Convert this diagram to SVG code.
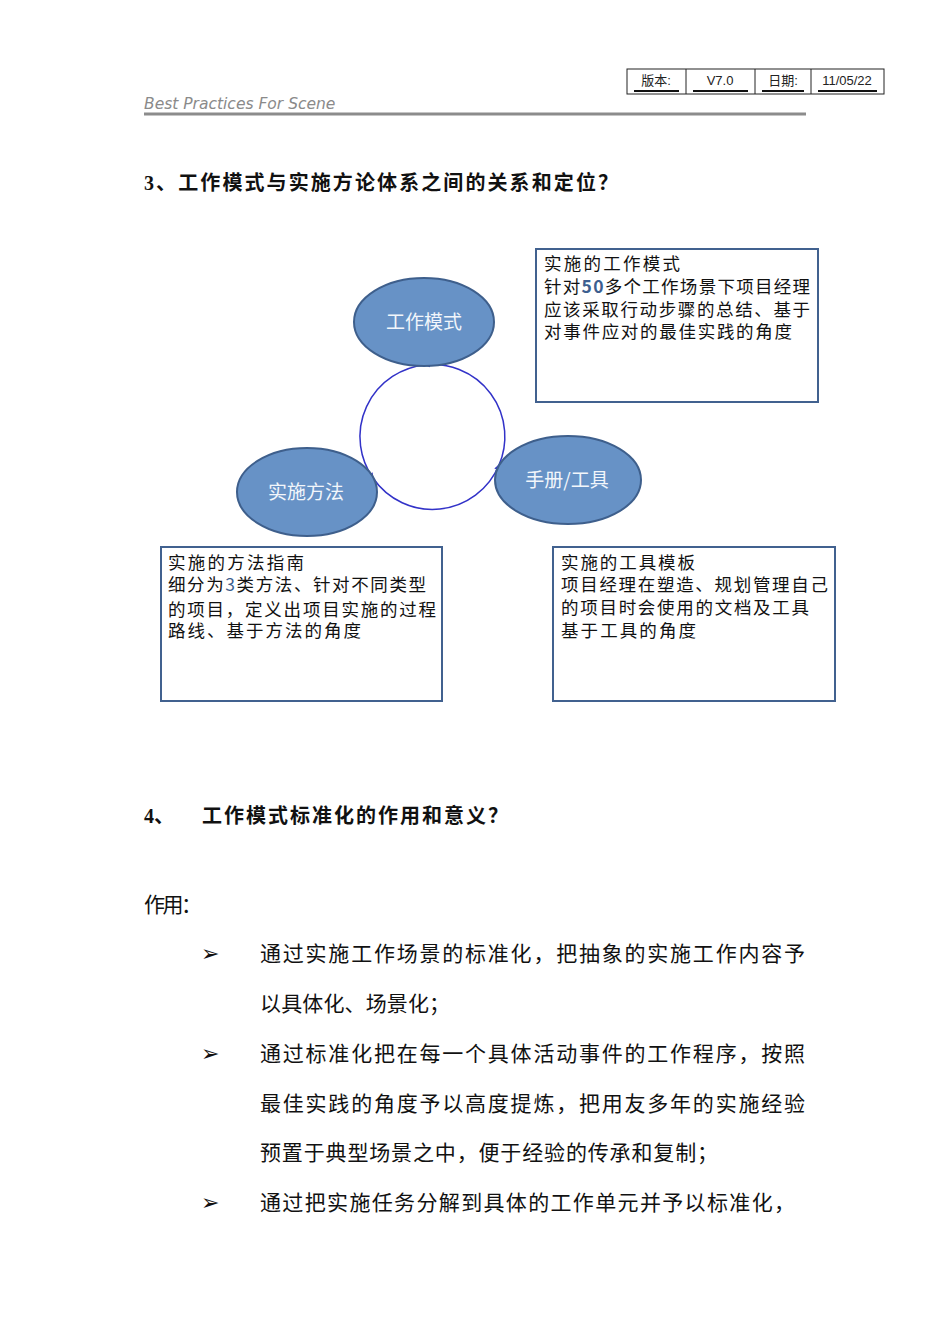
<svg xmlns="http://www.w3.org/2000/svg" width="950" height="1344" viewBox="0 0 950 1344">
<defs>
<style>
.hdr{font-family:"Liberation Sans","Noto Sans CJK SC",sans-serif;font-size:13px;fill:#222;text-anchor:middle}
.ell{fill:#6792c6;stroke:#3e5f8c;stroke-width:2}
.elt{font-family:"Noto Sans CJK SC",sans-serif;font-size:19px;fill:#f2f6fb;text-anchor:middle}
.box{fill:#fff;stroke:#41618f;stroke-width:2}
.bt{font-family:"Noto Sans CJK SC",sans-serif;font-size:17.5px;fill:#111}
.h{font-family:"Liberation Serif","Noto Sans CJK SC",serif;font-size:20px;font-weight:bold;fill:#111}
.p{font-family:"Liberation Serif","Noto Sans CJK SC",serif;font-size:21px;fill:#111}
.bul{font-family:"DejaVu Sans",sans-serif;font-size:22px;fill:#111}
.arc{fill:none;stroke:#3232c8;stroke-width:1.5}
</style>
<marker id="ah" markerWidth="6" markerHeight="6" refX="5" refY="3" orient="auto" markerUnits="userSpaceOnUse">
<path d="M0,0 L6,3 L0,6 z" fill="#3232c8"/>
</marker>
</defs>
<rect width="950" height="1344" fill="#fff"/>

<g id="header">
<rect x="627" y="69" width="257" height="25" fill="none" stroke="#222" stroke-width="1"/>
<line x1="686" y1="69" x2="686" y2="94" stroke="#222"/>
<line x1="755" y1="69" x2="755" y2="94" stroke="#222"/>
<line x1="811" y1="69" x2="811" y2="94" stroke="#222"/>
<g stroke="#111" stroke-width="2">
<line x1="634" y1="91" x2="679" y2="91"/>
<line x1="693" y1="91" x2="748" y2="91"/>
<line x1="762" y1="91" x2="804" y2="91"/>
<line x1="818" y1="91" x2="877" y2="91"/>
</g>
<text class="hdr" x="656" y="85" fill="#444">版本:</text>
<text class="hdr" x="720" y="85">V7.0</text>
<text class="hdr" x="783" y="85" fill="#444">日期:</text>
<text class="hdr" x="847" y="85">11/05/22</text>
<text x="144" y="109" font-family="'DejaVu Sans',sans-serif" font-size="15.5" font-style="italic" fill="#8a8a8a">Best Practices For Scene</text>
<line x1="144" y1="114" x2="806" y2="114" stroke="#8c8c8c" stroke-width="3"/>
</g>

<text class="h" x="144" y="190" textLength="474" lengthAdjust="spacing">3、工作模式与实施方论体系之间的关系和定位？</text>

<g id="connectors">
<path class="arc" d="M499,465 A72,72 0 0 0 425,365" marker-end="url(#ah)"/>
<path class="arc" d="M425,365 A72,72 0 0 0 373,478" marker-end="url(#ah)"/>
<path class="arc" d="M373,478 A72,72 0 0 0 499,465" marker-end="url(#ah)"/>
</g>

<g id="node-work-mode">
<ellipse class="ell" cx="424" cy="322" rx="70" ry="44"/>
<text class="elt" x="424" y="329">工作模式</text>
</g>
<g id="node-method">
<ellipse class="ell" cx="307" cy="492" rx="70" ry="44"/>
<text class="elt" x="306" y="499">实施方法</text>
</g>
<g id="node-tools">
<ellipse class="ell" cx="568" cy="480" rx="73" ry="44"/>
<text class="elt" x="567" y="487">手册/工具</text>
</g>

<g id="box-work-mode">
<rect class="box" x="536" y="249" width="282" height="153"/>
<text class="bt" x="544" y="270" textLength="136" lengthAdjust="spacing">实施的工作模式</text>
<text class="bt" x="544" y="293" textLength="266" lengthAdjust="spacing">针对<tspan fill="#3d5f90" font-weight="bold">50</tspan>多个工作场景下项目经理</text>
<text class="bt" x="544" y="316" textLength="266" lengthAdjust="spacing">应该采取行动步骤的总结、基于</text>
<text class="bt" x="544" y="338" textLength="248" lengthAdjust="spacing">对事件应对的最佳实践的角度</text>
</g>

<g id="box-method">
<rect class="box" x="161" y="547" width="281" height="154"/>
<text class="bt" x="168" y="569" textLength="136" lengthAdjust="spacing">实施的方法指南</text>
<text class="bt" x="168" y="591" textLength="258" lengthAdjust="spacing">细分为<tspan fill="#3d5f90">3</tspan>类方法、针对不同类型</text>
<text class="bt" x="168" y="616" textLength="268" lengthAdjust="spacing">的项目，定义出项目实施的过程</text>
<text class="bt" x="168" y="637" textLength="193" lengthAdjust="spacing">路线、基于方法的角度</text>
</g>

<g id="box-tools">
<rect class="box" x="553" y="547" width="282" height="154"/>
<text class="bt" x="561" y="569" textLength="134" lengthAdjust="spacing">实施的工具模板</text>
<text class="bt" x="561" y="591" textLength="267" lengthAdjust="spacing">项目经理在塑造、规划管理自己</text>
<text class="bt" x="561" y="614" textLength="248" lengthAdjust="spacing">的项目时会使用的文档及工具</text>
<text class="bt" x="561" y="637" textLength="135" lengthAdjust="spacing">基于工具的角度</text>
</g>

<text class="h" x="144" y="823">4、</text>
<text class="h" x="202" y="823" textLength="306" lengthAdjust="spacing">工作模式标准化的作用和意义？</text>

<text class="p" x="144" y="912" textLength="58" lengthAdjust="spacing">作用：</text>

<text class="bul" x="201" y="961">➢</text>
<text class="p" x="260" y="961" textLength="545" lengthAdjust="spacing">通过实施工作场景的标准化，把抽象的实施工作内容予</text>
<text class="p" x="260" y="1011" textLength="190" lengthAdjust="spacing">以具体化、场景化；</text>
<text class="bul" x="201" y="1061">➢</text>
<text class="p" x="260" y="1061" textLength="545" lengthAdjust="spacing">通过标准化把在每一个具体活动事件的工作程序，按照</text>
<text class="p" x="260" y="1111" textLength="545" lengthAdjust="spacing">最佳实践的角度予以高度提炼，把用友多年的实施经验</text>
<text class="p" x="260" y="1160" textLength="458" lengthAdjust="spacing">预置于典型场景之中，便于经验的传承和复制；</text>
<text class="bul" x="201" y="1210">➢</text>
<text class="p" x="260" y="1210" textLength="535" lengthAdjust="spacing">通过把实施任务分解到具体的工作单元并予以标准化，</text>
</svg>
